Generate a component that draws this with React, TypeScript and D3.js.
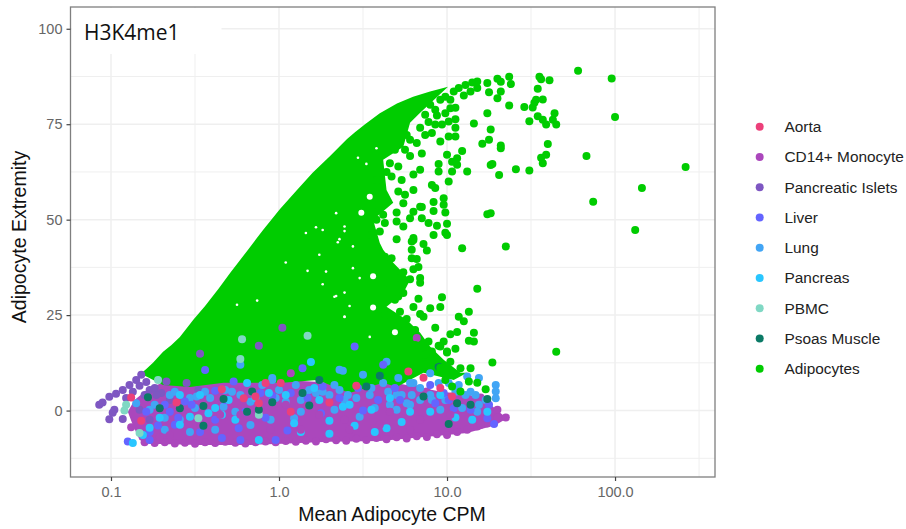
import React, { useEffect, useRef } from "react";
import * as d3 from "d3";

type Pt = [number, number];

// every pair is [log10 mean CPM, extremity]
const legendNames = ["Aorta", "CD14+ Monocyte", "Pancreatic Islets", "Liver", "Lung", "Pancreas", "PBMC", "Psoas Muscle", "Adipocytes"];
const legendColors = ["#ec407a", "#ab47bc", "#7e57c2", "#6464ff", "#42a5f5", "#29c6ff", "#80d8c4", "#0b7a66", "#00cc00"];
const xTicks = [-1, 0, 1, 2];
const xTickLabels = ["0.1", "1.0", "10.0", "100.0"];
const xMinor = [-0.5, 0.5, 1.5, 2.5];
const yTicks = [0, 25, 50, 75, 100];
const yMinor = [-12.5, 12.5, 37.5, 62.5, 87.5];

// outline of the part where adipocyte points merge into one solid mass
const adipocyteMass: Pt[] = [
  [-0.83, 9.35], [-0.79, 10.9], [-0.75, 12.5], [-0.69, 15.4], [-0.64, 17.2], [-0.59, 19.3], [-0.51, 23.8], [-0.44, 27.4], [-0.36, 31.9], [-0.29, 36.1], [-0.19, 41.8], [-0.095, 47.3],
  [0.006, 52.8], [0.107, 57.8], [0.2, 62.3], [0.304, 66.7], [0.405, 71.1], [0.452, 72.9], [0.512, 75], [0.6, 77.9], [0.702, 80.4], [0.798, 82.2], [0.899, 83.6], [1.006, 84.8],
  [0.84, 78], [0.78, 75.4], [0.74, 69.1], [0.62, 65.7], [0.64, 57.8], [0.68, 54.4], [0.56, 50], [0.6, 43.9], [0.62, 42.1],
  [0.68, 38.7], [0.78, 34.2], [0.74, 30.8], [0.64, 27.2], [0.76, 23.8], [0.84, 20.4], [0.9, 16.7], [0.98, 13.3], [1.08, 9.9], [1.12, 9.9],
  [1.04, 8], [0.86, 9.9], [0.7, 6.2], [0.62, 7.3], [0.42, 4.6], [0.23, 8], [0.02, 7.3], [-0.17, 7.3], [-0.33, 7.3], [-0.53, 6.2], [-0.69, 6.7], [-0.81, 9.4],
];
// outline of the solid monocyte band
const monocyteMass: Pt[] = [
  [-0.86, 2.8], [-0.77, 6], [-0.65, 8], [-0.17, 8.5], [0.42, 7], [0.72, 7], [0.96, 5], [1.14, 4.1], [1.26, 1.5], [1.35, -1.8],
  [1.35, -2.2], [1.29, -3.8], [1.12, -5.9], [1, -6.4], [0.8, -7.2], [0.6, -8], [0.3, -8.2], [0.02, -8.7], [-0.17, -9], [-0.47, -9], [-0.77, -8.7], [-0.83, -7.7], [-0.87, -3.8], [-0.9, -0.3],
];
// small white specks left open inside the mass
const massSpecks: Pt[] = [
  [0.34, 51.7], [0.39, 48.2], [0.36, 44.9], [0.22, 48], [0.16, 46.5], [0.26, 47.3], [0.24, 40.8], [0.28, 36.4], [0.26, 33.1],
  [0.39, 30.9], [0.34, 30], [0.39, 24.5], [-0.25, 27.7], [-0.13, 28.8], [0.04, 38.8], [0.17, 36.6], [0.58, 68.7], [0.52, 64.6],
  [0.47, 66.2], [0.39, 47], [0.35, 44.1], [0.44, 43], [0.33, 29.8], [0.42, 27.4], [0.48, 34.7], [0.44, 37.3], [0.39, 24.6], [0.54, 19.3],
];
const massHoles: Pt[] = [[0.54, 56], [0.49, 51.8], [0.56, 35.2], [0.56, 27], [0.69, 20.5]];

const adipocytes: Pt[] = [
  [1.78, 89], [1.98, 87], [2, 76.9], [1.83, 66.7], [2.42, 63.8], [2.16, 58.3], [1.87, 54.7], [2.12, 47.3], [1.55, 87.4], [1.56, 86.8], [1.61, 86.5],
  [1.54, 84.3], [1.57, 81.5], [1.53, 81.4], [1.52, 80.6], [1.51, 79.4], [1.46, 79.5], [1.37, 79.9], [1.24, 77.9], [1.64, 77.9], [1.54, 77.1], [1.57, 76.2],
  [1.49, 75.8], [1.59, 74.9], [1.63, 76.2], [1.65, 74.9], [1.16, 75.2], [1.26, 73.6], [1.25, 70.9], [1.21, 69.9], [1.32, 69.4], [1.32, 68.7], [1.6, 69.8],
  [1.59, 67], [1.56, 66.2], [1.57, 64.8], [1.09, 68], [1.27, 64.6], [1.26, 64.3], [1.41, 63.2], [1.49, 62.9], [1.31, 61.7], [1.12, 62.6], [1.24, 51.4], [1.26, 51.7],
  [1.37, 87.4], [1.3, 86.9], [1.38, 85.5], [1.32, 86.1], [1.24, 85.8], [1.18, 86.2], [1.15, 85.9], [1.11, 85.3], [1.18, 84.5], [1.25, 83.4], [1.32, 83.6], [1.3, 81.8],
  [1.1, 82.5], [1.14, 83.6], [1.04, 83.6], [1.07, 84.5], [1.02, 79.2], [0.99, 77.9], [0.94, 77.3], [1.05, 76.3], [1.01, 75.7], [0.93, 74.9], [0.97, 74.9], [1.05, 74.1],
  [0.91, 72.7], [0.96, 70.5], [1.01, 71.8], [1.05, 71.8], [0.85, 67.3], [1, 67], [1.06, 66.1], [1.03, 65.2], [1.06, 64.4], [0.95, 64.6], [0.95, 62.6], [1.03, 62.6],
  [0.84, 63.1], [1.01, 60], [0.93, 58.3], [0.91, 59.1], [0.8, 57.8], [0.98, 55.6], [0.98, 53.9], [0.92, 54.6], [0.92, 52.3], [0.99, 51.9], [0.85, 53.3], [0.85, 50.4],
  [0.89, 49.1], [0.94, 48.4], [1, 48.9], [0.92, 46], [0.99, 46.6], [1, 46], [1.09, 42.5], [1.35, 43], [1.18, 31.9], [0.97, 29.7], [0.83, 29.3], [0.9, 26.8], [0.96, 27.1],
  [1.13, 25.9], [1.07, 24.6], [1.1, 23.4], [0.8, 27.1], [0.84, 25.3], [0.86, 24.6], [0.93, 21.7], [1.06, 20.6], [1.02, 20], [1.16, 20.4], [1.13, 18.3], [1.16, 18.1],
  [0.98, 18.1], [0.95, 17], [1.05, 16.2], [1.65, 15.4], [0.84, 34.7], [0.84, 33.5], [0.83, 37.6], [0.8, 37], [0.88, 41.9], [0.86, 43.6], [0.8, 44.7], [0.82, 39.7],
  [0.75, 56.5], [0.71, 57.4], [0.66, 64.8], [0.71, 63.9], [0.78, 66.7], [0.67, 61.3], [0.73, 60.4], [0.8, 61.8], [0.84, 53.4], [0.74, 54.3], [0.8, 52.1], [0.7, 51.9],
  [0.78, 50.4], [0.63, 49.1], [0.7, 49.5], [0.74, 48.2], [0.58, 50], [0.6, 46.9], [0.7, 44.9], [0.8, 45.2], [0.84, 74.1], [0.82, 70.1], [0.79, 44.3], [0.79, 42.1],
  [0.79, 39.9], [0.74, 36.2], [0.78, 34.4], [0.71, 34.7], [0.66, 37.3], [0.67, 39.9], [0.63, 40.3], [0.65, 33.4], [0.74, 30.8], [0.71, 29.9], [0.72, 25.9], [0.76, 24],
  [0.81, 21.1], [0.89, 18.1], [0.96, 16.8], [1, 15.5], [0.91, 15.5], [1.27, 12.6], [1.23, 5.6], [1.18, 7.3], [1.13, 7.6], [1.08, 5], [1.03, 6.3], [1.14, 11.1], [1.08, 11.1],
  [1.02, 12.8], [1, 15.2], [0.93, 13.3], [0.87, 12], [0.96, 10.1], [0.99, 8],
  [0.87, 77.5], [0.9, 80.1], [0.96, 81.4], [0.99, 82.2], [0.93, 78.8], [0.89, 75.6], [1.02, 81.4], [1.05, 79.3], [0.87, 72.2], [0.78, 70.9], [0.75, 68.3],
  [0.59, 53.9], [0.62, 51.3], [0.55, 46], [0.61, 56.5], [0.58, 60.4], [0.64, 62.5], [0.69, 68.3], [0.76, 72.2], [0.69, 29], [0.63, 25.1], [0.71, 22.5], [0.81, 17.2], [0.87, 14.6], [0.96, 11.2],
];

const monocytes: Pt[] = [
  [-0.8, -8.3], [-0.74, -8.5], [-0.68, -8.3], [-0.62, -8.6], [-0.56, -8.4], [-0.5, -8.7], [-0.44, -8.3], [-0.38, -8.5], [-0.32, -8.2], [-0.26, -8.4], [-0.2, -8.6], [-0.14, -8.3],
  [-0.08, -8.1], [-0.02, -8.3], [0.04, -8], [0.1, -8.2], [0.16, -7.9], [0.22, -8.1], [0.28, -7.5], [0.34, -7.8], [0.4, -7.9], [0.46, -7.4], [0.52, -7.7], [0.58, -7.2], [0.64, -7.5],
  [0.7, -7], [0.76, -7.3], [0.82, -6.7], [0.88, -6.9], [0.94, -6.2], [1, -6.4], [1.06, -5.6], [1.12, -5], [1.18, -4.2], [1.24, -3.4], [1.3, -1.8],
  [-0.88, -4.4], [1.35, -1.8], [1.3, 0.2], [1.2, 3.4], [0.88, 5], [0.82, 5.6], [0.07, 9.8], [0.82, 19],
];
// monocyte points that sit over the blue ones
const monocytesOver: Pt[] = [
  [0.24, -1.1], [0.39, -2.4], [0.13, -5], [-0.05, -5], [-0.23, -1.1], [-0.47, -3.7], [-0.65, -6.4], [0.6, -3.7], [0.84, -2.4], [1.02, -1.1], [1.2, -3.7], [0.78, -5], [0.42, -5],
  [-0.35, -1.1], [0.04, 1.5], [-0.11, 0.7], [0.66, -0.3], [-0.71, -6.9],
];
const islets: Pt[] = [
  [-1.07, 1.5], [-1.05, 2.1], [-1.01, 3.6], [-0.97, 4.4], [-0.93, 5.4], [-0.89, 6.7], [-0.85, 8], [-0.82, 9.4], [-0.98, 0.2], [-1.01, -2.3], [-0.93, -2.2], [-0.99, -0.6],
  [-0.91, 3.3], [-0.87, 4.9], [-0.83, 6.5], [-0.79, 7.5], [-0.77, 5.4], [-0.8, 4.1], [-0.74, 5.9], [-0.7, 4.6], [-0.67, 7.6], [-0.55, 7.2], [-0.73, 4.1], [-0.48, 5.4],
  [0.02, 21.7], [-0.12, 17], [-0.47, 14.9], [-0.83, 0.2], [-0.77, -2.4], [-0.65, 2.8], [-0.62, 4.9],
];
const lung: Pt[] = [
  [-0.49, 3.7], [-0.85, 1.9], [-0.33, 1], [-0.04, 8], [0, 5.4], [0.71, 8.5], [0.76, 1.9], [0.62, 7.2], [0.36, 5.4], [0.48, -1.6], [0.22, 4.6], [0.09, -2], [0.8, 7.2], [0.5, 9.4],
  [0.36, 10.7], [0.7, 0.2], [1.29, 6.7], [1.29, 5], [1.29, 3.2], [1.19, 8.5], [1.12, 8.9], [0.78, 7.2], [0.9, 9.8], [0.95, 7.2], [1.01, 7.2], [0.7, 4.1], [0.84, 2.8], [1.11, 4.1],
  [1.19, 1.5], [-0.23, 12], [0.38, 10.4], [-0.04, 8.5], [0.64, 12.8], [0.13, 2.8], [0.39, 2.8], [0.54, 4.1], [0.66, 1.5], [0.18, 5.4], [0.04, 2.3], [0.9, 4.1], [1.05, 4.9],
  [1.17, 4.1], [-0.41, 3.3], [-0.65, 4.1], [-0.23, 4.1], [0.3, 4.1], [-0.32, 5.4], [-0.5, 0.7], [-0.77, 0.2], [-0.68, -1.9],
  [-0.62, 4.9], [-0.53, 3.3], [-0.44, 4.9], [-0.28, 4.9], [-0.17, 2.3], [-0.1, 6.7], [-0.02, 3.3], [0.1, 6.7], [0.15, 4.1], [0.26, 4.9], [0.33, 6.7], [0.41, 4.1], [0.46, 3.3],
  [0.55, 5.9], [0.65, 4.9], [0.73, 4.1], [0.79, 4.1], [0.84, 5.9], [0.91, 2.8], [0.99, 2.8], [1.07, 6.7], [1.14, 4.9], [1.23, 2.8], [1.09, 0.7], [1.18, -0.3], [0.96, 0.2],
  [0.78, 1.5], [0.57, 0.7], [0.33, 0.2], [0.13, -0.3], [-0.05, -2.4], [-0.26, -0.3], [-0.59, -2.4], [-0.74, 1.5], [-0.68, -5], [-0.53, -5.6], [-0.38, -5], [-0.17, -3.8],
];
const liver: Pt[] = [
  [-0.9, -8.1], [-0.72, -3.9], [-0.56, 2.4], [-0.38, 5.2], [-0.27, 7.6], [-0.65, -0.3], [-0.24, -4.6], [0.14, 11.1], [0.62, 12], [0.25, -0.7], [0.5, 0], [0.05, -5.2], [0.59, 2.8],
  [0.07, 4.6], [0.26, 6.3], [-0.11, 4.6], [1.28, -3.5], [1.24, -2], [1.25, 1.5], [1.04, 0.6], [1.14, 0.2], [0.98, 4.6], [0.93, 1.9], [-0.44, 10.6], [0.45, 16.8], [-0.62, -3.7],
  [-0.47, -5.6], [-0.77, -7.7], [-0.08, -1.9],
  [-0.79, -0.3], [-0.68, 1.5], [-0.52, 1.5], [-0.32, 2.8], [-0.6, -1.9], [-0.77, -5.6], [-0.38, -2.4], [-0.2, -0.3], [-0.04, 3.8], [0.17, 3.3], [0.36, 3.3], [0.47, 5.9], [0.69, 5.9],
  [0.72, 2.8], [0.9, 6.7], [1.01, 2.8], [-0.34, -7.2], [-0.02, -7.7], [-0.23, -7.7],
];
const pancreas: Pt[] = [
  [-0.53, -1.6], [-0.42, -0.7], [-0.38, 0.7], [-0.19, 7.2], [-0.87, -8.5], [-0.34, -1.1], [-0.81, -6.4], [0.3, -2.7], [0.45, -4], [0.73, -3], [0.55, 0.2], [0.3, -6.1], [0.09, -3.3],
  [-0.06, 4.6], [0.24, 2.8], [0.38, 1], [-0.12, -7.7], [1.05, -1.8], [1.24, -0.3], [0.64, -4.6], [1.15, -2.4], [0.19, 12.7], [0.13, -5.6], [-0.59, -3.7], [-0.26, -2.4],
  [-0.3, 2.8], [-0.59, 4.1], [-0.47, 4.1], [-0.14, 3.3], [0.04, 4.1], [0.21, 5.9], [0.42, 1.5], [0.78, -0.3], [0.9, -0.3], [-0.71, -1.9], [-0.77, -4.5], [0.66, 3.3], [0.96, 4.1], [0.57, -5.6],
];
const pbmc: Pt[] = [
  [-0.91, 1.5], [-0.92, 0], [-0.83, -5.9], [-0.48, -2], [-0.72, 8], [-0.12, -1.1], [-0.22, 18.7], [0.17, 19.6], [-0.23, 13.5],
];
const psoas: Pt[] = [
  [-0.78, 3.5], [-0.59, 0.6], [-0.71, 0.6], [-0.45, 1.2], [-0.33, 3], [-0.16, 5], [-0.45, -4], [-0.19, -0.3], [-0.04, 2.2], [0.18, 1.3], [0.24, 8], [0.52, 6.3], [0.6, 9.1], [0.14, 4.6],
  [-0.12, 0.2], [0.95, 11.5], [1.24, 3], [1.06, 1.9], [1.14, 1.5], [0.86, 3.7], [1.01, -3.5],
];
const aorta: Pt[] = [
  [-0.88, 3.4], [-0.82, -2.7], [-0.61, 2.1], [-0.34, 5.6], [-0.21, 3.2], [-0.08, 7.2], [0.01, 7.2], [0.46, 6.5], [0.3, 2.1], [0.07, -0.3], [-0.12, 1.9], [-0.14, 3.7], [0.86, 8.6],
  [0.96, 5.9], [1.03, 3.7], [0.77, 10.2],
];

const panel = { left: 70.5, right: 715, top: 7, bottom: 477 };

export default function App() {
  const ref = useRef<SVGSVGElement | null>(null);

  useEffect(() => {
    const svg = d3.select(ref.current);
    svg.selectAll("*").remove();

    const x = d3.scaleLinear().domain([-1.241, 2.595]).range([panel.left, panel.right]);
    const y = d3.scaleLinear().domain([-17.4, 105.7]).range([panel.bottom, panel.top]);

    const font = "'Liberation Sans', Arial, sans-serif";
    const w = panel.right - panel.left;
    const h = panel.bottom - panel.top;

    // grid
    const grid = svg.append("g");
    const gridLine = (vals: number[], vertical: boolean, sw: number) => {
      grid.selectAll(null).data(vals).join("line")
        .attr("x1", d => vertical ? x(d) : panel.left).attr("x2", d => vertical ? x(d) : panel.right)
        .attr("y1", d => vertical ? panel.top : y(d)).attr("y2", d => vertical ? panel.bottom : y(d))
        .attr("stroke", "#efefef").attr("stroke-width", sw);
    };
    gridLine(xMinor, true, 1);
    gridLine(yMinor, false, 1);
    gridLine(xTicks, true, 1.5);
    gridLine(yTicks, false, 1.5);

    // solid masses
    const outline = d3.line<Pt>().x(d => x(d[0])).y(d => y(d[1])).curve(d3.curveLinearClosed);
    svg.append("path").attr("d", outline(monocyteMass)).attr("fill", legendColors[1]);
    svg.append("path").attr("d", outline(adipocyteMass)).attr("fill", legendColors[8]);

    const dots = (data: Pt[], color: string, r: number) => {
      svg.append("g").selectAll("circle").data(data).join("circle")
        .attr("cx", d => x(d[0])).attr("cy", d => y(d[1])).attr("r", r).attr("fill", color);
    };
    dots(massSpecks, "#ffffff", 1.3);
    dots(massHoles, "#ffffff", 3);

    dots(monocytes, legendColors[1], 4);
    dots(islets, legendColors[2], 4);
    dots(lung, legendColors[4], 4);
    dots(liver, legendColors[3], 4);
    dots(pancreas, legendColors[5], 4);
    dots(monocytesOver, legendColors[1], 4);
    dots(pbmc, legendColors[6], 4);
    dots(psoas, legendColors[7], 4);
    dots(aorta, legendColors[0], 4);
    dots(adipocytes, legendColors[8], 4);

    // white label box sits over the grid, then the panel frame
    svg.append("rect").attr("x", panel.left + 1).attr("y", panel.top + 1).attr("width", 150).attr("height", 46).attr("fill", "#fff");
    svg.append("rect").attr("x", panel.left).attr("y", panel.top).attr("width", w).attr("height", h)
      .attr("fill", "none").attr("stroke", "#7f7f7f").attr("stroke-width", 1.3);
    svg.append("text").attr("x", 84).attr("y", 40).text("H3K4me1")
      .style("font-family", "'Open Sans', sans-serif").style("font-size", "21px").attr("fill", "#111");

    // axes
    const xAxis = svg.append("g").attr("transform", `translate(0,${panel.bottom})`)
      .call(d3.axisBottom(x).tickValues(xTicks).tickSize(4).tickPadding(6).tickFormat((_, i) => xTickLabels[i]));
    const yAxis = svg.append("g").attr("transform", `translate(${panel.left},0)`)
      .call(d3.axisLeft(y).tickValues(yTicks).tickSize(4).tickPadding(4));
    [xAxis, yAxis].forEach(a => {
      a.select(".domain").remove();
      a.selectAll("line").attr("stroke", "#444").attr("stroke-width", 1.2);
      a.selectAll("text").attr("fill", "#666").style("font-family", font).style("font-size", "14.5px");
    });

    svg.append("text").attr("x", 392).attr("y", 521).attr("text-anchor", "middle").text("Mean Adipocyte CPM")
      .style("font-family", font).style("font-size", "19.5px").attr("fill", "#111");
    svg.append("text").attr("transform", "translate(26,237) rotate(-90)").attr("text-anchor", "middle").text("Adipocyte Extremity")
      .style("font-family", font).style("font-size", "19.5px").attr("fill", "#111");

    // legend
    const legendY = d3.scalePoint<string>().domain(legendNames).range([126.7, 368.7]);
    const items = svg.append("g").selectAll("g").data(legendNames).join("g")
      .attr("transform", d => `translate(0,${legendY(d)})`);
    items.append("circle").attr("cx", 759.7).attr("r", 4).attr("fill", (_, i) => legendColors[i]);
    items.append("text").attr("x", 784.5).attr("dy", "0.36em").text(d => d)
      .style("font-family", font).style("font-size", "15.4px").attr("fill", "#222");
  }, []);

  return (
    <svg ref={ref} width={906} height={529} style={{ position: "absolute", left: 0, top: 0, background: "#fff" }} />
  );
}
